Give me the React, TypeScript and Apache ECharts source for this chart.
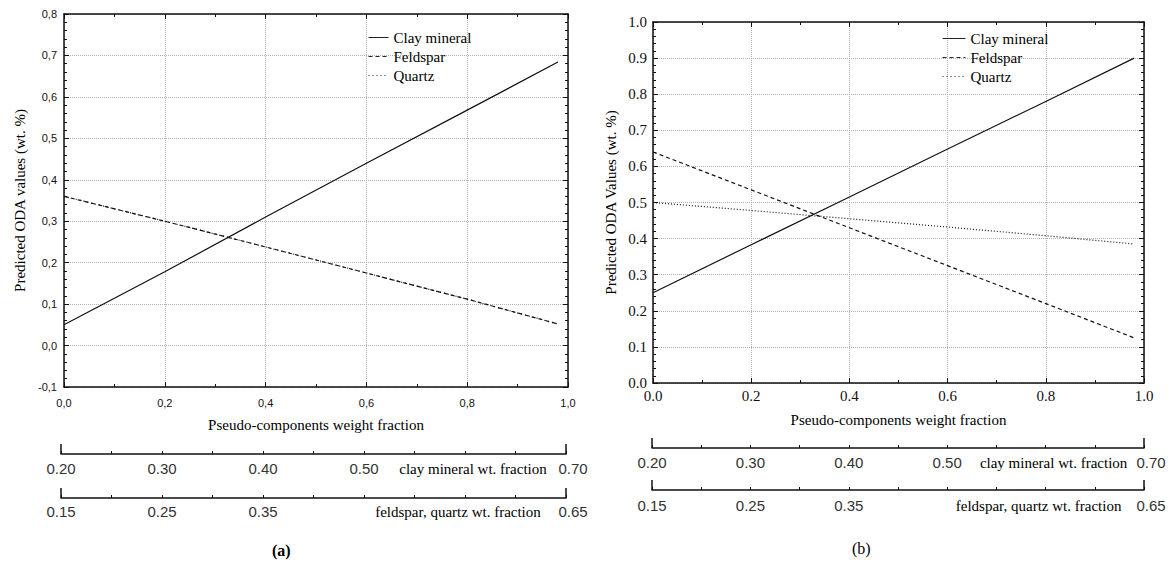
import React, { useEffect, useRef } from 'react';
import * as echarts from 'echarts';

// ---------- data ----------
const NAMES = ['Clay mineral', 'Feldspar', 'Quartz'];

// panel (a)
const xA = [0, 0.2, 0.4, 0.6, 0.8, 0.98];
const clayA = [0.05, 0.178, 0.31, 0.44, 0.568, 0.684];
const feldsparA = [0.36, 0.3, 0.238, 0.175, 0.112, 0.052];
const quartzA = [0.36, 0.3, 0.238, 0.175, 0.112, 0.052];

// panel (b)
const xB = [0, 0.2, 0.4, 0.6, 0.8, 0.98];
const clayB = [0.25, 0.383, 0.515, 0.648, 0.78, 0.9];
const feldsparB = [0.64, 0.535, 0.43, 0.325, 0.22, 0.125];
const quartzB = [0.5, 0.478, 0.455, 0.432, 0.408, 0.385];

// auxiliary composition axes
const clayAuxRange = [0.2, 0.7];
const feldAuxRange = [0.15, 0.65];
const clayAuxLabels: Record<string, string> = {
  '0.20': '0.20',
  '0.30': '0.30',
  '0.40': '0.40',
  '0.50': '0.50',
  '0.60': '{t|clay mineral wt. fraction}',
  '0.70': '{e|0.70}',
};
const feldAuxLabels: Record<string, string> = {
  '0.15': '0.15',
  '0.25': '0.25',
  '0.35': '0.35',
  '0.55': '{f|feldspar, quartz wt. fraction}',
  '0.65': '{e|0.65}',
};

const SERIF = '"Liberation Serif", "Times New Roman", serif';
const SANS = '"Liberation Sans", Arial, sans-serif';

const pairs = (xs: number[], ys: number[]) => xs.map((x, i) => [x, ys[i]]);

export default function App() {
  const ref = useRef<HTMLDivElement>(null);

  useEffect(() => {
    if (!ref.current) return;
    const chart = echarts.init(ref.current, undefined, { renderer: 'svg' });

    const frameLine = { show: true, onZero: false, lineStyle: { color: '#111', width: 1.5 } };
    const gridSplit = { show: true, lineStyle: { color: '#b0b0b0', type: 'dotted', width: 1 } };

    const mainX = (grid: number, comma: boolean, labelStyle: any, nameGap: number) => [
      {
        type: 'value', gridIndex: grid, position: 'bottom', min: 0, max: 1, interval: 0.2,
        axisLine: frameLine,
        axisTick: { show: true, inside: true, length: 5, lineStyle: { color: '#111' } },
        minorTick: { show: true, splitNumber: 2, length: 3, lineStyle: { color: '#111' } },
        splitLine: gridSplit,
        axisLabel: {
          ...labelStyle,
          formatter: (v: number) => (comma ? v.toFixed(1).replace('.', ',') : v.toFixed(1)),
        },
        name: 'Pseudo-components weight fraction',
        nameLocation: 'middle', nameGap,
        nameTextStyle: { fontFamily: SERIF, fontSize: 15, color: '#000' },
      },
      {
        type: 'value', gridIndex: grid, position: 'top', min: 0, max: 1, interval: 0.2,
        axisLine: frameLine,
        axisTick: { show: true, inside: true, length: 5, lineStyle: { color: '#111' } },
        minorTick: { show: true, splitNumber: 2, length: 3, lineStyle: { color: '#111' } },
        splitLine: { show: false },
        axisLabel: { show: false },
      },
    ];

    const mainY = (grid: number, min: number, max: number, comma: boolean, labelStyle: any, name: string, nameGap: number) => [
      {
        type: 'value', gridIndex: grid, position: 'left', min, max, interval: 0.1,
        axisLine: frameLine,
        axisTick: { show: true, inside: true, length: 5, lineStyle: { color: '#111' } },
        minorTick: { show: true, splitNumber: 5, length: 3, lineStyle: { color: '#111' } },
        splitLine: gridSplit,
        axisLabel: {
          ...labelStyle,
          formatter: (v: number) => (comma ? v.toFixed(1).replace('.', ',') : v.toFixed(1)),
        },
        name, nameLocation: 'middle', nameGap, nameRotate: 90,
        nameTextStyle: { fontFamily: SERIF, fontSize: 15, color: '#000' },
      },
      {
        type: 'value', gridIndex: grid, position: 'right', min, max, interval: 0.1,
        axisLine: frameLine,
        axisTick: { show: true, inside: true, length: 5, lineStyle: { color: '#111' } },
        minorTick: { show: true, splitNumber: 5, length: 3, lineStyle: { color: '#111' } },
        splitLine: { show: false },
        axisLabel: { show: false },
      },
    ];

    const auxRich = {
      t: { fontFamily: SERIF, fontSize: 15, color: '#000', padding: [0, 0, 0, 16] },
      f: { fontFamily: SERIF, fontSize: 15, color: '#000', padding: [0, 14, 0, 0] },
      e: { fontFamily: SANS, fontSize: 15, color: '#333', padding: [0, 0, 0, 14] },
    };

    const auxX = (grid: number, range: number[], labels: Record<string, string>, margin: number) => [
      {
        type: 'value', gridIndex: grid, position: 'bottom', min: range[0], max: range[1], interval: 0.5,
        axisLine: { show: true, onZero: false, lineStyle: { color: '#111', width: 1.5 } },
        axisTick: { show: true, inside: true, length: 10, lineStyle: { color: '#111', width: 1.5 } },
        axisLabel: { show: false },
        splitLine: { show: false },
      },
      {
        type: 'value', gridIndex: grid, position: 'bottom', min: range[0], max: range[1], interval: 0.05,
        axisLine: { show: false, onZero: false },
        axisTick: { show: true, inside: true, length: 3, lineStyle: { color: '#111' } },
        splitLine: { show: false },
        axisLabel: {
          show: true, margin, showMinLabel: true, showMaxLabel: true,
          fontFamily: SANS, fontSize: 15, color: '#333',
          formatter: (v: number) => labels[v.toFixed(2)] || '',
          rich: auxRich,
        },
      },
    ];

    const hiddenY = (grid: number) => ({ type: 'value', gridIndex: grid, show: false, min: 0, max: 1 });

    const lineSeries = (name: string, xi: number, yi: number, xs: number[], ys: number[], type: any) => ({
      type: 'line', name, xAxisIndex: xi, yAxisIndex: yi, data: pairs(xs, ys),
      symbol: 'none', showSymbol: false,
      itemStyle: { color: '#111' },
      lineStyle: { color: '#111', width: 1.2, type },
      z: 5,
    });

    const labelA = { fontFamily: SANS, fontSize: 11, color: '#111', margin: 10 };
    const labelAY = { fontFamily: SANS, fontSize: 11, color: '#111', margin: 7 };
    const labelB = { fontFamily: SERIF, fontSize: 15, color: '#111', margin: 5 };
    const labelBY = { fontFamily: SERIF, fontSize: 15, color: '#111', margin: 6 };

    const legendBase = {
      orient: 'vertical', itemHeight: 10, itemGap: 4, selectedMode: false,
      itemStyle: { opacity: 0, color: 'transparent', borderColor: 'transparent', borderWidth: 0 },
      lineStyle: { width: 1, color: '#222' },
      textStyle: { fontFamily: SERIF, fontSize: 15, color: '#000', lineHeight: 14 },
      data: NAMES,
    };

    chart.setOption({
      animation: false,
      backgroundColor: '#fff',
      grid: [
        { left: 64, top: 14, width: 504, height: 373 },
        { left: 653, top: 22, width: 491, height: 361 },
        { left: 61, top: 453, width: 505, height: 1 },
        { left: 61, top: 497, width: 505, height: 1 },
        { left: 652, top: 447, width: 492, height: 1 },
        { left: 652, top: 489, width: 492, height: 1 },
      ],
      xAxis: [
        ...mainX(0, true, labelA, 30),
        ...mainX(1, false, labelB, 29),
        ...auxX(2, clayAuxRange, clayAuxLabels, 7),
        ...auxX(3, feldAuxRange, feldAuxLabels, 6),
        ...auxX(4, clayAuxRange, clayAuxLabels, 7),
        ...auxX(5, feldAuxRange, feldAuxLabels, 8),
      ],
      yAxis: [
        ...mainY(0, -0.1, 0.8, true, labelAY, 'Predicted ODA values (wt. %)', 37),
        ...mainY(1, 0, 1, false, labelBY, 'Predicted ODA Values (wt. %)', 35),
        hiddenY(2), hiddenY(3), hiddenY(4), hiddenY(5),
      ],
      legend: [
        { ...legendBase, left: 363, top: 25, itemWidth: 20 },
        { ...legendBase, left: 937, top: 26, itemWidth: 23 },
      ],
      series: [
        lineSeries(NAMES[0], 0, 0, xA, clayA, 'solid'),
        lineSeries(NAMES[1], 0, 0, xA, feldsparA, [4, 3]),
        lineSeries(NAMES[2], 0, 0, xA, quartzA, [1, 3]),
        lineSeries(NAMES[0], 2, 2, xB, clayB, 'solid'),
        lineSeries(NAMES[1], 2, 2, xB, feldsparB, [4, 3]),
        lineSeries(NAMES[2], 2, 2, xB, quartzB, [1, 2]),
      ],
      graphic: [
        {
          type: 'text', left: 272, top: 542,
          style: { text: '(a)', fontFamily: SERIF, fontSize: 16, fontWeight: 'bold', fill: '#000' },
        },
        {
          type: 'text', left: 852, top: 540,
          style: { text: '(b)', fontFamily: SERIF, fontSize: 16, fill: '#000' },
        },
      ],
    });

    return () => chart.dispose();
  }, []);

  return (
    <div
      ref={ref}
      style={{ position: 'fixed', left: 0, top: 0, width: 1171, height: 566, background: '#fff' }}
    />
  );
}
